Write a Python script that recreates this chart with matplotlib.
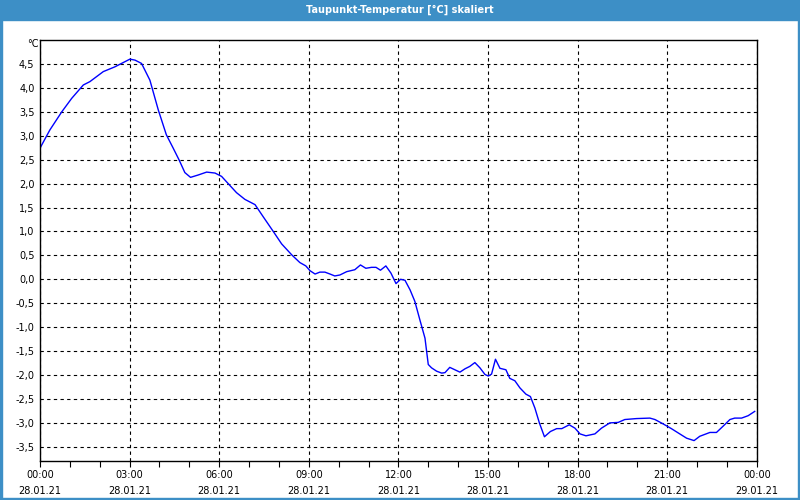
import matplotlib
matplotlib.use('Agg')
import matplotlib.pyplot as plt
from matplotlib.patches import Rectangle

stunden = [0.0, 0.33, 0.73, 1.06, 1.45, 1.67, 2.12, 2.51, 3.01, 3.18, 3.40, 3.68, 3.96, 4.23,
           4.46, 4.66, 4.85, 5.04, 5.30, 5.58, 5.86, 6.08, 6.30, 6.58, 6.86, 7.20, 7.47, 7.81,
           8.09, 8.43, 8.70, 8.90, 9.04, 9.21, 9.37, 9.54, 9.71, 9.87, 10.04, 10.27, 10.54,
           10.73, 10.91, 11.10, 11.25, 11.40, 11.58, 11.75, 11.92, 12.07, 12.22, 12.39, 12.55,
           12.72, 12.89, 13.0, 13.11, 13.28, 13.45, 13.56, 13.72, 13.89, 14.06, 14.23, 14.39,
           14.56, 14.73, 14.90, 15.01, 15.12, 15.25, 15.40, 15.60, 15.73, 15.90, 16.07, 16.27,
           16.42, 16.57, 16.72, 16.89, 17.09, 17.30, 17.47, 17.72, 17.91, 18.08, 18.28, 18.58,
           18.80, 19.08, 19.36, 19.58, 19.97, 20.42, 20.59, 20.86, 21.14, 21.42, 21.65, 21.90,
           22.09, 22.43, 22.65, 22.87, 23.10, 23.26, 23.49, 23.71, 23.93]
taupunkt = [2.74, 3.12, 3.5, 3.78, 4.06, 4.13, 4.34, 4.44, 4.6, 4.58, 4.51, 4.16, 3.54, 3.02,
            2.74, 2.49, 2.23, 2.13, 2.18, 2.24, 2.22, 2.15, 2.0, 1.81, 1.67, 1.56, 1.31, 1.0,
            0.74, 0.51, 0.35, 0.28, 0.18, 0.11, 0.15, 0.15, 0.11, 0.07, 0.09, 0.16, 0.2,
            0.30, 0.23, 0.25, 0.25, 0.19, 0.28, 0.13, -0.09, 0.0, -0.02, -0.22, -0.46,
            -0.85, -1.23, -1.78, -1.85, -1.92, -1.96, -1.95, -1.84, -1.89, -1.94, -1.87, -1.82,
            -1.74, -1.85, -1.99, -2.02, -1.98, -1.67, -1.86, -1.89, -2.07, -2.12, -2.27, -2.40,
            -2.45, -2.69, -3.0, -3.29, -3.18, -3.12, -3.12, -3.04, -3.11, -3.23, -3.27, -3.23,
            -3.11, -3.0, -2.99, -2.93, -2.91, -2.90, -2.93, -3.02, -3.12, -3.23, -3.32, -3.37,
            -3.28, -3.2, -3.2, -3.07, -2.93, -2.9, -2.9, -2.85, -2.76]

x_ticks = [0, 3, 6, 9, 12, 15, 18, 21, 24]
x_labels = ['00:00\n28.01.21', '03:00\n28.01.21', '06:00\n28.01.21', '09:00\n28.01.21',
            '12:00\n28.01.21', '15:00\n28.01.21', '18:00\n28.01.21', '21:00\n28.01.21',
            '00:00\n29.01.21']
y_ticks = [4.5, 4.0, 3.5, 3.0, 2.5, 2.0, 1.5, 1.0, 0.5, 0.0, -0.5, -1.0, -1.5, -2.0, -2.5, -3.0, -3.5]

blau = '#3d8fc6'

fig = plt.figure(figsize=(8, 5), dpi=100)
fig.patch.set_facecolor('white')

# Titelleiste und Fensterrahmen
fig.patches.append(Rectangle((0, 0.96), 1, 0.04, transform=fig.transFigure, color=blau, zorder=0))
fig.patches.append(Rectangle((0, 0), 0.0025, 1, transform=fig.transFigure, color=blau, zorder=0))
fig.patches.append(Rectangle((0.9975, 0), 0.0025, 1, transform=fig.transFigure, color=blau, zorder=0))
fig.patches.append(Rectangle((0, 0), 1, 0.004, transform=fig.transFigure, color=blau, zorder=0))
fig.text(0.5, 0.981, 'Taupunkt-Temperatur [°C] skaliert', color='white', fontsize=7,
         fontweight='bold', ha='center', va='center')

ax = fig.add_axes([0.05, 0.079, 0.896, 0.841])
ax.plot(stunden, taupunkt, color='#0000ff', linewidth=1)

ax.set_xlim(0, 24)
ax.set_ylim(-3.786, 5.0)
ax.set_xticks(x_ticks)
ax.set_xticklabels(x_labels, fontsize=7, linespacing=1.75)
ax.set_xticks(range(25), minor=True)
ax.set_yticks(y_ticks)
ax.set_yticklabels([('%.1f' % v).replace('.', ',') for v in y_ticks], fontsize=7)
ax.tick_params(axis='x', which='both', direction='out', length=4, width=0.8, pad=3)
ax.tick_params(axis='y', length=0, pad=4)
ax.grid(True, which='major', color='black', linestyle=(0, (3, 3)), linewidth=0.8)
for s in ax.spines.values():
    s.set_color('black')
    s.set_linewidth(1)

fig.text(0.048, 0.912, '°C', fontsize=7, ha='right', va='center')

fig.savefig('out.png', dpi=100)
